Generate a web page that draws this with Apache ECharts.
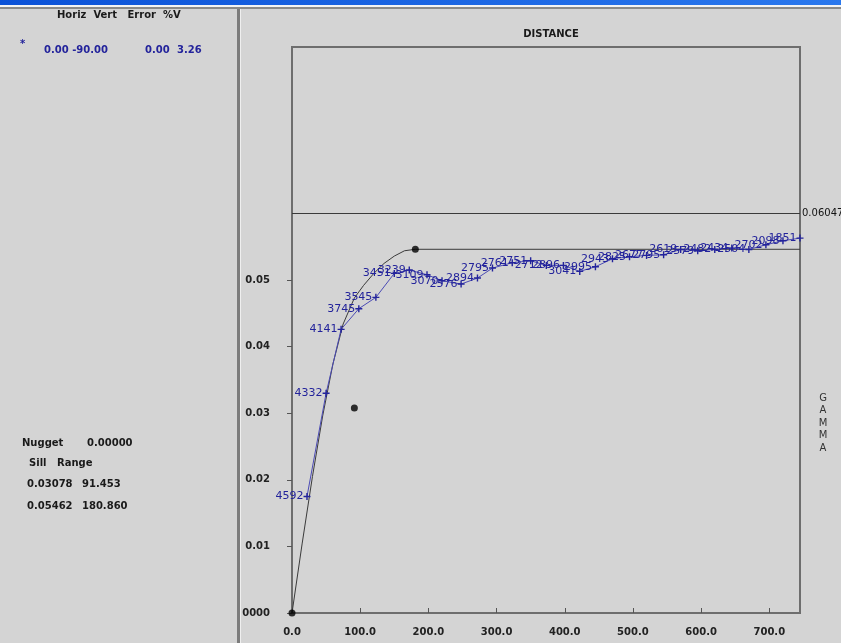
<!DOCTYPE html>
<html>
<head>
<meta charset="utf-8">
<script src="https://cdn.jsdelivr.net/npm/echarts@6/dist/echarts.min.js"></script>
<style>
  html, body { margin: 0; padding: 0; background: #d4d4d4; }
  #chart { width: 841px; height: 643px; }
</style>
</head>
<body>
<div id="chart"></div>
<script>
var chart = echarts.init(document.getElementById('chart'));

// experimental variogram: lag distance, gamma, pair count
const lags = [22, 50, 72, 98, 123, 150, 172, 198, 220, 248, 272, 294, 323, 350, 373,
  398, 422, 445, 470, 495, 520, 545, 570, 595, 620, 645, 670, 695, 720, 745];
const gammas = [0.0175, 0.0330, 0.0426, 0.0457, 0.0474, 0.0510, 0.0515, 0.0508, 0.0499, 0.0494,
  0.0503, 0.0518, 0.0526, 0.0529, 0.0522, 0.0522, 0.0513, 0.0520, 0.0532, 0.0535,
  0.0537, 0.0538, 0.0546, 0.0544, 0.0546, 0.0548, 0.0546, 0.0553, 0.0559, 0.0563];
const pairs = [4592, 4332, 4141, 3745, 3545, 3451, 3239, 3109, 3070, 2576,
  2894, 2795, 2761, 2751, 2712, 2896, 3041, 2995, 2943, 2825,
  2677, 2795, 2619, 2579, 2482, 2434, 2504, 2702, 2098, 1851];

// fitted model curve
const modelX = [0, 15, 30, 45, 60, 75, 91.45, 105, 120, 135, 150, 165, 180.86, 745];
const modelY = [0, 0.0105, 0.0205, 0.0296, 0.0374, 0.0434, 0.0473, 0.0492, 0.0510, 0.0525,
  0.0536, 0.0544, 0.05462, 0.05462];

// model structure points (range, sill)
const structX = [0, 91.453, 180.86];
const structY = [0, 0.03078, 0.05462];

const varianceLine = 0.06047;
const yTicks = [0, 0.01, 0.02, 0.03, 0.04, 0.05];

var font = 'DejaVu Sans';
var blue = '#23239b';

var expData = lags.map(function (x, i) { return [x, gammas[i], pairs[i]]; });
var modelData = modelX.map(function (x, i) { return [x, modelY[i]]; });
var structData = structX.map(function (x, i) { return [x, structY[i]]; });

function txt(x, y, s, color, align) {
  return {
    type: 'text', x: x, y: y, z: 101,
    style: { text: s, fill: color || '#1a1a1a', font: 'bold 10px ' + font,
      textAlign: align || 'left', textVerticalAlign: 'middle' }
  };
}

var option = {
  backgroundColor: '#d4d4d4',
  animation: false,
  title: {
    text: 'DISTANCE', left: 546, top: 24, textAlign: 'center',
    textStyle: { fontFamily: font, fontSize: 10, fontWeight: 'bold', color: '#1a1a1a' }
  },
  grid: {
    left: 292, top: 47, right: 41, bottom: 30,
    show: true, borderColor: '#6e6e6e', borderWidth: 2, backgroundColor: 'transparent'
  },
  xAxis: {
    type: 'value', min: 0, max: 745, interval: 100,
    axisLine: { show: true, lineStyle: { color: '#6e6e6e', width: 2 } },
    axisTick: { show: true, inside: true, length: 5, lineStyle: { color: '#555' } },
    splitLine: { show: false },
    axisLabel: {
      margin: 14, fontFamily: font, fontSize: 10, fontWeight: 'bold', color: '#222',
      showMaxLabel: false,
      formatter: function (v) { return v.toFixed(1); }
    }
  },
  yAxis: {
    type: 'value', min: 0, max: 0.085, interval: 0.01,
    axisLine: { show: true, lineStyle: { color: '#6e6e6e', width: 2 } },
    axisTick: { show: true, length: 5, customValues: yTicks, lineStyle: { color: '#555' } },
    splitLine: { show: false },
    axisLabel: {
      margin: 22, fontFamily: font, fontSize: 10, fontWeight: 'bold', color: '#222',
      customValues: yTicks,
      formatter: function (v) { return v === 0 ? '0.0000' : v.toFixed(2); }
    }
  },
  series: [
    {
      name: 'model', type: 'line', data: modelData, showSymbol: false, z: 2,
      lineStyle: { color: '#3a3a3a', width: 1 },
      markLine: {
        silent: true, symbol: ['none', 'none'],
        lineStyle: { color: '#3a3a3a', width: 1, type: 'solid' },
        label: { position: 'end', distance: 2, formatter: '0.06047',
          fontFamily: font, fontSize: 10, color: '#111' },
        data: [{ yAxis: varianceLine }]
      }
    },
    {
      name: 'experimental', type: 'line', data: expData, z: 3,
      lineStyle: { color: '#4b4bb5', width: 1 },
      symbol: 'path://M2,0h1v2h2v1h-2v2h-1v-2h-2v-1h2z', symbolSize: 7,
      itemStyle: { color: blue },
      label: {
        show: true, position: 'left', distance: 0,
        fontFamily: font, fontSize: 11, color: blue,
        formatter: function (p) { return p.value[2]; }
      }
    },
    {
      name: 'structures', type: 'scatter', data: structData, z: 4,
      symbol: 'circle', symbolSize: 7, itemStyle: { color: '#000' }
    }
  ],
  graphic: [
    // left panel cover and separators
    { type: 'rect', z: 100, shape: { x: 0, y: 0, width: 238, height: 643 }, style: { fill: '#d4d4d4' } },
    { type: 'rect', z: 100, shape: { x: 237, y: 8, width: 3, height: 635 }, style: { fill: '#7c7c7c' } },
    { type: 'rect', z: 100, shape: { x: 240, y: 8, width: 1, height: 635 }, style: { fill: '#efefef' } },
    { type: 'rect', z: 100, shape: { x: 0, y: 0, width: 841, height: 5 },
      style: { fill: new echarts.graphic.LinearGradient(0, 0, 1, 0, [
        { offset: 0, color: '#0b52d8' }, { offset: 1, color: '#2a78ee' }]) } },
    { type: 'rect', z: 100, shape: { x: 0, y: 5, width: 841, height: 2 }, style: { fill: '#f4f4f4' } },
    { type: 'rect', z: 100, shape: { x: 0, y: 7, width: 841, height: 2 }, style: { fill: '#8a8a8a' } },

    txt(57, 15, 'Horiz  Vert   Error  %V'),
    txt(20, 44, '*', blue),
    txt(44, 50, '0.00 -90.00', blue),
    txt(145, 50, '0.00', blue),
    txt(177, 50, '3.26', blue),

    txt(22, 443, 'Nugget'),
    txt(87, 443, '0.00000'),
    txt(29, 463, 'Sill'),
    txt(57, 463, 'Range'),
    txt(27, 484, '0.03078'),
    txt(82, 484, '91.453'),
    txt(27, 506, '0.05462'),
    txt(82, 506, '180.860'),

    {
      type: 'text', x: 823, y: 392, z: 101,
      style: { text: 'G\nA\nM\nM\nA', fill: '#333', font: '10px ' + font,
        textAlign: 'center', lineHeight: 12.5 }
    }
  ]
};

chart.setOption(option);
</script>
</body>
</html>
